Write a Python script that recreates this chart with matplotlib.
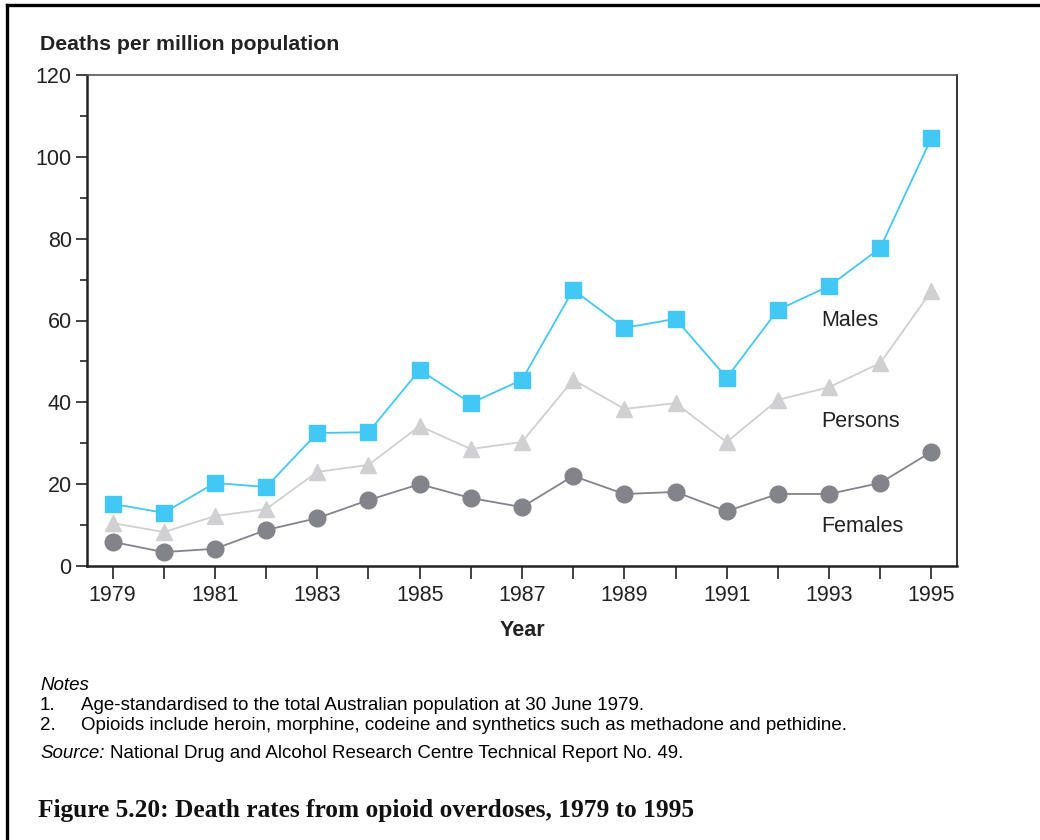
import matplotlib
matplotlib.use("Agg")
import matplotlib.pyplot as plt
from matplotlib.lines import Line2D

years = list(range(1979, 1996))
males = [15.2, 13.0, 20.3, 19.3, 32.5, 32.7, 47.9, 39.8, 45.5, 67.5,
         58.2, 60.4, 46.0, 62.6, 68.4, 77.7, 104.6]
persons = [10.5, 8.3, 12.2, 13.9, 23.0, 24.7, 34.2, 28.6, 30.3, 45.5,
           38.4, 39.8, 30.3, 40.6, 43.7, 49.6, 67.2]
females = [5.9, 3.4, 4.2, 8.8, 11.7, 16.1, 20.0, 16.6, 14.4, 22.0,
           17.6, 18.1, 13.4, 17.6, 17.6, 20.3, 27.9]
year_labels = [str(y) for y in range(1979, 1996, 2)]
y_ticks = [0, 20, 40, 60, 80, 100, 120]

plt.rcParams['font.family'] = ['Liberation Sans', 'DejaVu Sans']

W, H = 1040, 840
fig = plt.figure(figsize=(W / 100, H / 100), dpi=100)

# page frame (top and left edges)
fig.add_artist(Line2D([7 / W, 7 / W], [0, 1 - 5 / H], color='black', lw=2.4,
                      transform=fig.transFigure))
fig.add_artist(Line2D([7 / W, 1], [1 - 5 / H, 1 - 5 / H], color='black', lw=2.4,
                      transform=fig.transFigure))

left, right, top, bottom = 87, 957, 75, 566
ax = fig.add_axes([left / W, 1 - bottom / H, (right - left) / W, (bottom - top) / H])

c_m, c_p, c_f = '#42C8F4', '#D0D0D2', '#838489'
ax.plot(years, persons, color=c_p, lw=1.3, marker='^', ms=12, mec=c_p, mfc=c_p, zorder=3)
ax.plot(years, females, color=c_f, lw=1.3, marker='o', ms=12, mec=c_f, mfc=c_f, zorder=3)
ax.plot(years, males, color=c_m, lw=1.3, marker='s', ms=11.5, mec=c_m, mfc=c_m, zorder=4)

ax.set_xlim(1978.5, 1995.5)
ax.set_ylim(0, 120)
ax.set_xticks(years)
ax.set_xticklabels([str(y) if str(y) in year_labels else '' for y in years])
ax.set_yticks(y_ticks)
ax.set_yticks(range(10, 120, 20), minor=True)
ax.tick_params(axis='both', which='both', direction='out', colors='#222222',
               labelsize=15.5, labelcolor='#222222', width=1.2)
ax.tick_params(axis='x', length=9, pad=5)
ax.tick_params(axis='y', which='major', length=8, pad=3)
ax.tick_params(axis='y', which='minor', length=5)

for side in ['left', 'bottom']:
    ax.spines[side].set_linewidth(1.8)
    ax.spines[side].set_color('#222222')
ax.spines['right'].set_linewidth(1.4)
ax.spines['right'].set_color('#333333')
ax.spines['top'].set_linewidth(1.2)
ax.spines['top'].set_color('#555555')

ax.set_xlabel('Year', fontsize=15.5, fontweight='bold', color='#222222', labelpad=10)

fig.text(40 / W, 1 - 45 / H, 'Deaths per million population', fontsize=15.3,
         fontweight='bold', color='#222222', va='center', ha='left')

ax.text(1992.85, 60.0, 'Males', fontsize=15.5, color='#222222', va='center')
ax.text(1992.85, 35.3, 'Persons', fontsize=15.5, color='#222222', va='center')
ax.text(1992.85, 9.6, 'Females', fontsize=15.5, color='#222222', va='center')

fs = 13.5
fig.text(40 / W, 1 - 685 / H, 'Notes', fontsize=fs, style='italic', va='center')
fig.text(40 / W, 1 - 705 / H, '1.', fontsize=fs, va='center')
fig.text(81 / W, 1 - 705 / H, 'Age-standardised to the total Australian population at 30 June 1979.',
         fontsize=fs, va='center')
fig.text(40 / W, 1 - 726 / H, '2.', fontsize=fs, va='center')
fig.text(81 / W, 1 - 726 / H,
         'Opioids include heroin, morphine, codeine and synthetics such as methadone and pethidine.',
         fontsize=fs, va='center')
fig.text(40 / W, 1 - 754 / H, 'Source:', fontsize=fs, style='italic', va='center')
fig.text(110 / W, 1 - 754 / H, 'National Drug and Alcohol Research Centre Technical Report No. 49.',
         fontsize=fs, va='center')

fig.text(38 / W, 1 - 810 / H, 'Figure 5.20: Death rates from opioid overdoses, 1979 to 1995',
         fontsize=18.3, fontweight='bold', family=['Liberation Serif', 'DejaVu Serif'],
         va='center', color='#111111')

fig.savefig('out.png', dpi=100)
